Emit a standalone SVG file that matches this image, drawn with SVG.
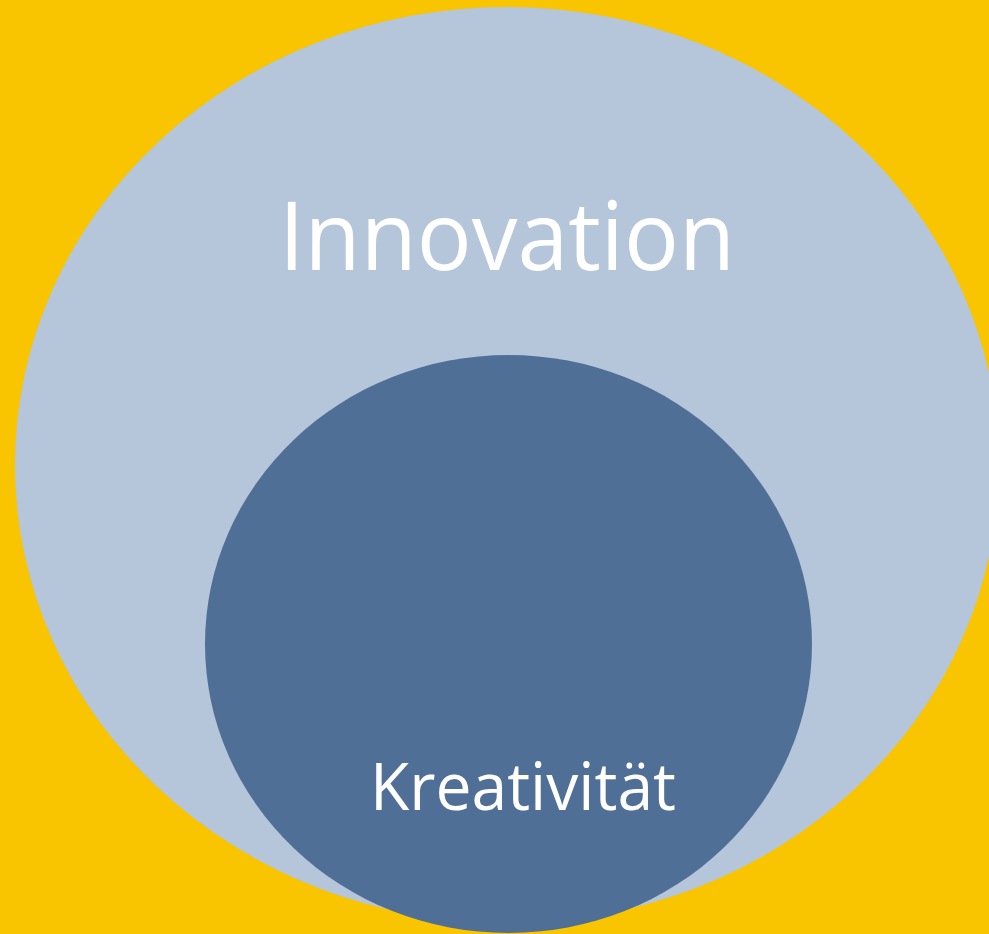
<svg xmlns="http://www.w3.org/2000/svg" width="989" height="934" viewBox="0 0 989 934">
<style>
.lbl{font-family:"Open Sans","Noto Sans","DejaVu Sans",sans-serif;fill:#ffffff;text-anchor:middle}
</style>
<rect x="0" y="0" width="989" height="934" fill="#F9C400"/>
<g id="innovation">
<ellipse cx="507" cy="465" rx="492" ry="458" fill="#B5C5DA"/>
<text class="lbl" x="507" y="270" font-size="96" textLength="456" lengthAdjust="spacingAndGlyphs">Innovation</text>
</g>
<g id="kreativitaet">
<ellipse cx="508.5" cy="644" rx="303.5" ry="289" fill="#506F97"/>
<text class="lbl" x="523" y="810" font-size="66" textLength="306" lengthAdjust="spacingAndGlyphs">Kreativität</text>
</g>
<g id="connectors"/>
</svg>
